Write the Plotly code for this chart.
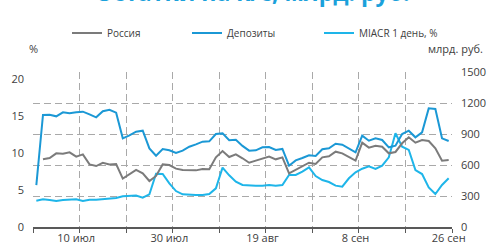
import plotly.graph_objects as go

# Category positions (trading days), only some labelled
n_points = 63
x_idx = list(range(n_points))
tick_pos = [6, 20, 34, 48, 62]
tick_text = ["10 июл", "30 июл", "19 авг", "8 сен", "26 сен"]

# Series (Россия, Депозиты in bn rub; MIACR in %)
russia = [None, 655, 668, 713, 710, 723, 681, 703, 606, 590, 622, 606, 610, 468, 513, 552,
          519, 445, 494, 606, 600, 565, 552, 552, 548, 561, 558, 674, 735, 677, 703,
          665, 622, 642, 661, 681, 655, 674, 519, 552, 584, 622, 610, 674, 684, 729,
          713, 681, 642, 816, 768, 787, 777, 713, 726, 810, 868, 816, 842, 832, 761,
          642, 648]
deposits = [406, 1084, 1087, 1071, 1110, 1100, 1110, 1116, 1090, 1061, 1120, 1135, 1106, 858, 887, 922,
            932, 761, 690, 755, 742, 716, 739, 777, 800, 826, 829, 900, 906, 839, 845,
            785, 739, 742, 771, 774, 745, 755, 593, 645, 668, 694, 687, 752, 761, 806,
            797, 761, 723, 884, 835, 858, 842, 771, 787, 900, 932, 868, 916, 1148, 1142,
            858, 832]
miacr = [3.56, 3.74, 3.65, 3.51, 3.65, 3.69, 3.74, 3.51, 3.69, 3.69, 3.74, 3.83, 3.92, 4.15, 4.25, 4.25,
         3.96, 4.41, 7.2, 7.16, 5.90, 4.86, 4.41, 4.32, 4.32, 4.32, 4.46, 5.23, 8.02, 6.98, 6.13,
         5.68, 5.59, 5.59, 5.59, 5.68, 5.59, 5.68, 7.03, 7.03, 7.48, 8.06, 6.89, 6.35, 6.08, 5.59,
         5.45, 6.58, 7.39, 7.88, 8.20, 7.84, 8.29, 9.41, 12.66, 10.86, 10.41, 7.70, 7.16, 5.36, 4.46,
         5.68, 6.58]

left_ticks = [0, 5, 10, 15, 20]
right_ticks = [0, 300, 600, 900, 1200, 1500]

GRAY = "#7B7B7B"
BLUE = "#1B98D5"
CYAN = "#1EB5E9"
TXT = "#404040"
GRID = "#A9A9A9"
FONT = "Open Sans"

fig = go.Figure()
fig.add_trace(go.Scatter(x=x_idx, y=russia, name="Россия", mode="lines", showlegend=True,
                         line=dict(color=GRAY, width=2), yaxis="y2", legend="legend"))
fig.add_trace(go.Scatter(x=x_idx, y=deposits, name="Депозиты", mode="lines", showlegend=True,
                         line=dict(color=BLUE, width=2), yaxis="y2", legend="legend2"))
fig.add_trace(go.Scatter(x=x_idx, y=miacr, name="MIACR 1 день, %", mode="lines", showlegend=True,
                         line=dict(color=CYAN, width=2), yaxis="y", legend="legend3"))

L, R, T, B = 33, 45, 72, 24
W, H = 497, 251
pw, ph = W - L - R, H - T - B

def px_x(p):
    return (p - L) / pw

def px_y(p):
    return (H - B - p) / ph

leg_common = dict(orientation="h", yanchor="middle", xanchor="left",
                  xref="container", yref="container",
                  font=dict(size=10, color=TXT, family=FONT), bgcolor="rgba(0,0,0,0)",
                  borderwidth=0)

fig.update_layout(
    width=W, height=H,
    showlegend=True,
    margin=dict(l=L, r=R, t=T, b=B, pad=0, autoexpand=False),
    paper_bgcolor="white", plot_bgcolor="white",
    font=dict(family=FONT, size=11, color=TXT),
    legend=dict(x=67 / W, y=1 - 33 / H, **leg_common),
    legend2=dict(x=187 / W, y=1 - 33 / H, **leg_common),
    legend3=dict(x=319 / W, y=1 - 33 / H, **leg_common),
    xaxis=dict(
        range=[-0.5, n_points - 0.5],
        tickvals=tick_pos, ticktext=tick_text, ticks="",
        showgrid=False, zeroline=False,
        showline=True, linecolor="#595959", linewidth=1.5,
        tickfont=dict(size=11, color=TXT),
        minor=dict(tick0=-0.5, dtick=7, ticks="outside", ticklen=4, tickwidth=1,
                   tickcolor="#595959", showgrid=True, gridcolor=GRID,
                   griddash="7px,4px", gridwidth=1),
    ),
    yaxis=dict(
        range=[0, 20 * ph / 148], tickvals=left_ticks, showgrid=False, zeroline=False,
        showline=False, ticks="", tickfont=dict(size=11, color=TXT), ticklabelstandoff=8,
    ),
    yaxis2=dict(
        overlaying="y", side="right", range=[0, 1500], tickvals=right_ticks,
        showgrid=True, gridcolor=GRID, griddash="7px,4px", gridwidth=1,
        zeroline=False, showline=False, ticks="", tickfont=dict(size=11, color=TXT),
        ticklabelstandoff=8,
    ),
    annotations=[
        dict(text="<b>Остатки на к/с, млрд. руб.</b>", xref="paper", yref="paper",
             x=px_x(252), y=px_y(10), xanchor="center", yanchor="bottom", showarrow=False,
             font=dict(size=23, color="#1BA1DB", family=FONT)),
        dict(text="%", xref="paper", yref="paper", x=px_x(33.5), y=px_y(48),
             xanchor="center", yanchor="middle", showarrow=False,
             font=dict(size=11, color=TXT)),
        dict(text="млрд. руб.", xref="paper", yref="paper", x=px_x(455), y=px_y(48),
             xanchor="center", yanchor="middle", showarrow=False,
             font=dict(size=11, color=TXT)),
    ],
)

fig.write_html("out.html", config={"displayModeBar": False},
               post_script="document.body.style.margin='0px';document.body.style.padding='0px';")
